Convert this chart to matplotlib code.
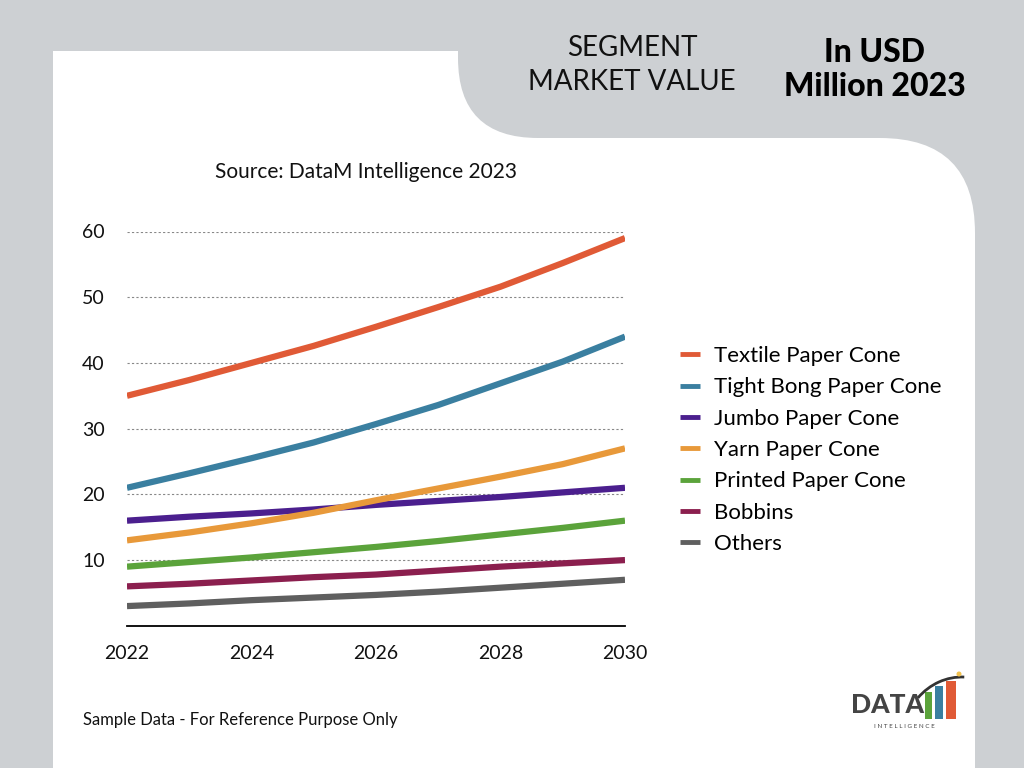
import matplotlib
matplotlib.use('Agg')
import matplotlib.pyplot as plt
from matplotlib.patches import Rectangle, FancyBboxPatch, Arc, Circle

plt.rcParams['font.family'] = ['Lato', 'DejaVu Sans']

# Data
years = [2022, 2023, 2024, 2025, 2026, 2027, 2028, 2029, 2030]
textile = [35.0, 37.4, 40.0, 42.6, 45.5, 48.5, 51.6, 55.2, 59.0]
tight_bong = [21.0, 23.2, 25.5, 27.9, 30.7, 33.6, 36.9, 40.2, 44.0]
jumbo = [16.0, 16.6, 17.1, 17.7, 18.4, 19.0, 19.6, 20.3, 21.0]
yarn = [13.0, 14.2, 15.6, 17.2, 19.1, 20.9, 22.7, 24.6, 27.0]
printed = [9.0, 9.7, 10.4, 11.2, 12.0, 12.9, 13.9, 14.9, 16.0]
bobbins = [6.0, 6.4, 6.9, 7.4, 7.8, 8.4, 9.0, 9.5, 10.0]
others = [3.0, 3.4, 3.9, 4.3, 4.7, 5.2, 5.8, 6.4, 7.0]

series_names = ['Textile Paper Cone', 'Tight Bong Paper Cone', 'Jumbo Paper Cone',
                'Yarn Paper Cone', 'Printed Paper Cone', 'Bobbins', 'Others']
series_values = [textile, tight_bong, jumbo, yarn, printed, bobbins, others]
series_colors = ['#E05A36', '#3A7FA0', '#4B1F8E', '#E8993A', '#5BA33B', '#8B1F4E', '#5F5F5F']

gray = '#CDD0D3'

fig = plt.figure(figsize=(10.24, 7.68), dpi=100)
fig.patch.set_facecolor(gray)

# Background card drawn in pixel coordinates
bg = fig.add_axes([0, 0, 1, 1])
bg.set_xlim(0, 1024)
bg.set_ylim(768, 0)
bg.axis('off')
bg.add_patch(Rectangle((53, 51), 560, 800, facecolor='white', edgecolor='none'))
bg.add_patch(FancyBboxPatch((400, 138), 575, 800, boxstyle='round,pad=0,rounding_size=95',
                            facecolor='white', edgecolor='none'))
bg.add_patch(FancyBboxPatch((458, -300), 800, 438, boxstyle='round,pad=0,rounding_size=80',
                            facecolor=gray, edgecolor='none'))

# Header texts
bg.text(632, 48, 'SEGMENT', ha='center', va='center', fontsize=20, color='#111111')
bg.text(632, 82, 'MARKET VALUE', ha='center', va='center', fontsize=20, color='#111111')
bg.text(875, 52, 'In USD', ha='center', va='center', fontsize=23, fontweight='black', color='#000000')
bg.text(875, 86, 'Million 2023', ha='center', va='center', fontsize=23, fontweight='black', color='#000000')
bg.text(366, 172, 'Source: DataM Intelligence 2023', ha='center', va='center', fontsize=15, color='#111111')
bg.text(83, 720, 'Sample Data - For Reference Purpose Only', ha='left', va='center', fontsize=12,
        color='#111111')

# Simple logo
bg.text(851, 705, 'DATA', ha='left', va='center', fontsize=19, fontweight='black', color='#444444')
bar_x = [925, 935, 946]
bar_w = [7, 8, 10]
bar_top = [692, 686, 681]
bar_c = ['#5BA33B', '#3A7FA0', '#E05A36']
for bx, bw, bt, bc in zip(bar_x, bar_w, bar_top, bar_c):
    bg.add_patch(Rectangle((bx, bt), bw, 719 - bt, facecolor=bc, edgecolor='none'))
bg.add_patch(Arc((962, 742), 120, 130, theta1=225, theta2=272, color='#333333', lw=2))
bg.add_patch(Circle((959, 674), 2.5, facecolor='#F2C14E', edgecolor='none'))
bg.text(904, 727, 'I N T E L L I G E N C E', ha='center', va='center', fontsize=4.5, color='#444444')

# Chart axes
ax = fig.add_axes([127 / 1024, 1 - 625.8 / 768, 498 / 1024, (625.8 - 231.5) / 768])
ax.patch.set_alpha(0)
for name, vals, col in zip(series_names, series_values, series_colors):
    ax.plot(years, vals, color=col, lw=4.5, label=name, solid_capstyle='butt')

ax.set_xlim(2022, 2030)
ax.set_ylim(0, 60)
ax.set_xticks([2022, 2024, 2026, 2028, 2030])
ax.set_yticks([10, 20, 30, 40, 50, 60])
ax.tick_params(length=0, labelsize=14, colors='#111111')
ax.tick_params(axis='y', pad=16)
ax.tick_params(axis='x', pad=14)
ax.grid(axis='y', linestyle=(0, (2, 2)), color='#888888', lw=0.8)
ax.set_axisbelow(True)
for s in ['top', 'right', 'left']:
    ax.spines[s].set_visible(False)
ax.spines['bottom'].set_linewidth(1.3)
ax.spines['bottom'].set_color('#000000')

leg = fig.legend(loc='upper left', bbox_to_anchor=(660 / 1024, 1 - 326 / 768), frameon=False,
                 fontsize=16, handlelength=0.9, handletextpad=0.63, labelspacing=0.51)
for line in leg.get_lines():
    line.set_linewidth(3.5)

fig.savefig('out.png', dpi=100, facecolor=fig.get_facecolor())
